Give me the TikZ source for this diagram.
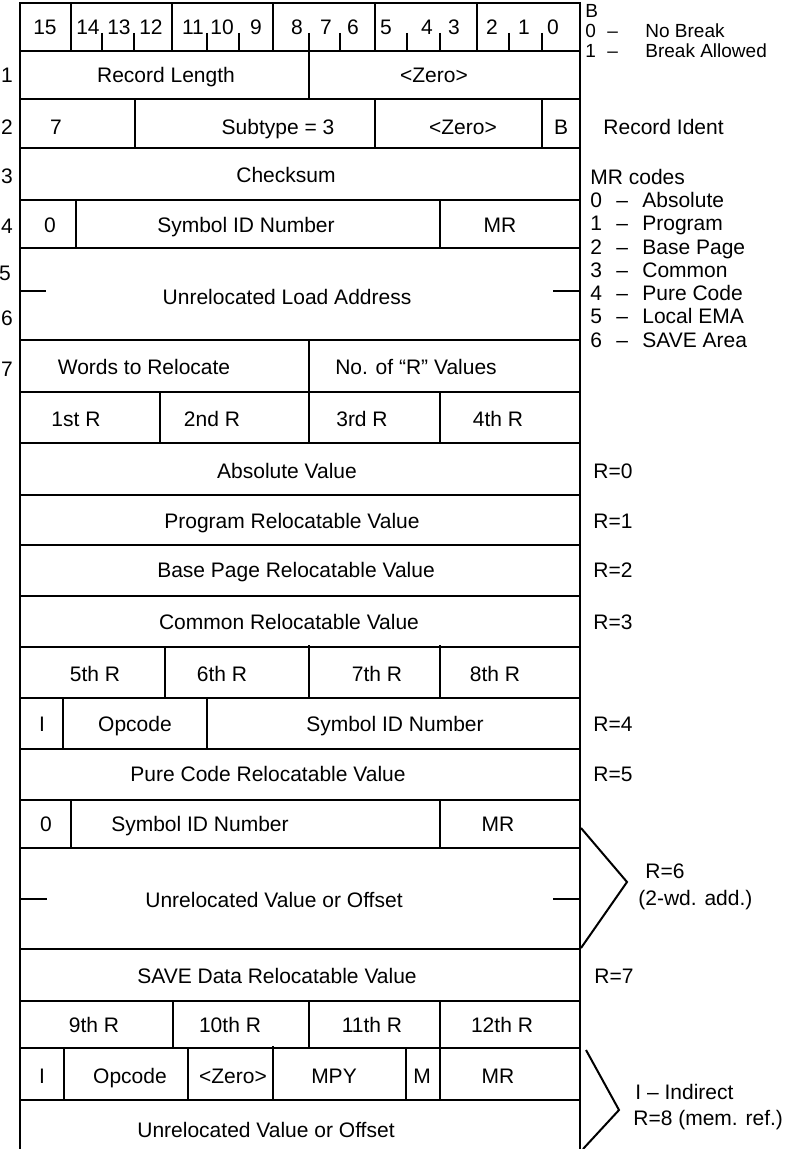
\documentclass[tikz,border=0pt]{standalone}
\usepackage{fontspec}
\setmainfont{Liberation Sans}
\tikzstyle{every node}=[inner sep=0pt, text height=7.5pt, text depth=0pt,
  font=\fontsize{10.5}{12}\selectfont]
\tikzstyle{note}=[anchor=west]
\tikzstyle{small note}=[anchor=west, text height=6.8pt, font=\fontsize{9.5}{11}\selectfont]
\tikzstyle{hline}=[line width=1.2pt]
\tikzstyle{vline}=[line width=1pt]
\newcommand{\brk}[2]{\makebox[11pt][l]{#1}\makebox[19pt][l]{--}#2}
\newcommand{\mrc}[2]{\makebox[13pt][l]{#1}\makebox[13pt][l]{--}#2}

\begin{document}
\begin{tikzpicture}[x=0.5pt,y=-0.5pt]
      \useasboundingbox (0,0) rectangle (784,1149);
      \draw[hline] (20,1149) -- (20,3) -- (580,3) -- (580,1149);
      \draw[hline] (20,51) -- (580,51);
      \draw[hline] (20,99) -- (580,99);
      \draw[hline] (20,148) -- (580,148);
      \draw[hline] (20,200) -- (580,200);
      \draw[hline] (20,248) -- (580,248);
      \draw[hline] (20,340) -- (580,340);
      \draw[hline] (20,392) -- (580,392);
      \draw[hline] (20,443) -- (580,443);
      \draw[hline] (20,495) -- (580,495);
      \draw[hline] (20,545) -- (580,545);
      \draw[hline] (20,596) -- (580,596);
      \draw[hline] (20,647) -- (580,647);
      \draw[hline] (20,698) -- (580,698);
      \draw[hline] (20,749) -- (580,749);
      \draw[hline] (20,800) -- (580,800);
      \draw[hline] (20,848) -- (580,848);
      \draw[hline] (20,949) -- (580,949);
      \draw[hline] (20,1001) -- (580,1001);
      \draw[hline] (20,1048) -- (580,1048);
      \draw[hline] (20,1100) -- (580,1100);

      \draw[vline] (71,3) -- (71,51) (172,3) -- (172,51) (273,3) -- (273,51)
                   (375,3) -- (375,51) (477,3) -- (477,51);
      \draw[vline] (102,33) -- (102,51) (134,33) -- (134,51) (207,33) -- (207,51)
                   (239,33) -- (239,51) (340,33) -- (340,51) (407,33) -- (407,51)
                   (440,33) -- (440,51) (509,33) -- (509,51) (542,33) -- (542,51);
      \draw[vline] (309,33) -- (309,99);
      \draw[vline] (135,99) -- (135,148) (375,99) -- (375,148) (542,99) -- (542,148);
      \draw[vline] (76,200) -- (76,248) (440,200) -- (440,248);
      \draw[vline] (20,291) -- (46,291) (553,291) -- (580,291);
      \draw[vline] (309,340) -- (309,443) (160,392) -- (160,443) (440,392) -- (440,443);
      \draw[vline] (165,647) -- (165,698) (309,645) -- (309,698) (440,645) -- (440,698);
      \draw[vline] (63,698) -- (63,749) (207,698) -- (207,749);
      \draw[vline] (71,800) -- (71,848) (440,800) -- (440,848);
      \draw[vline] (20,899) -- (47,899) (553,899) -- (580,899);
      \draw[vline] (173,1001) -- (173,1048) (309,1001) -- (309,1048) (440,1001) -- (440,1048);
      \draw[vline] (64,1048) -- (64,1100) (188,1048) -- (188,1100) (273,1046) -- (273,1100)
                   (406,1048) -- (406,1100) (440,1048) -- (440,1100);

      \node (b15) at (45,27) {15};
      \node (b14) at (88,27) {14};
      \node (b13) at (119,27) {13};
      \node (b12) at (151,27) {12};
      \node (b11) at (193,27) {11};
      \node (b10) at (222,27) {10};
      \node (b9) at (256,27) {9};
      \node (b8) at (297,27) {8};
      \node (b7) at (326,27) {7};
      \node (b6) at (353,27) {6};
      \node (b5) at (386,27) {5};
      \node (b4) at (427,27) {4};
      \node (b3) at (454,27) {3};
      \node (b2) at (492,27) {2};
      \node (b1) at (524,27) {1};
      \node (b0) at (553,27) {0};

      \node (rn1) at (7,75) {1};
      \node (rn2) at (7,127) {2};
      \node (rn3) at (7,176) {3};
      \node (rn4) at (7,226) {4};
      \node (rn5) at (5,273) {5};
      \node (rn6) at (7,318) {6};
      \node (rn7) at (7,369) {7};

      \node (reclen) at (166,75) {Record Length};
      \node (zeroa) at (434,75) {<Zero>};
      \node (ident) at (56,127) {7};
      \node (subtype) at (278,127) {Subtype = 3};
      \node (zerob) at (463,127) {<Zero>};
      \node (brkbit) at (561,127) {B};
      \node (chksum) at (286,175) {Checksum};
      \node (signa) at (50,225) {0};
      \node (symida) at (246,225) {Symbol ID Number};
      \node (mra) at (500,225) {MR};
      \node (loadadr) at (287,297) {Unrelocated Load Address};
      \node (words) at (144,367) {Words to Relocate};
      \node (nrval) at (416,367) {No. of “R” Values};
      \node (r1) at (76,419) {1st R};
      \node (r2) at (212,419) {2nd R};
      \node (r3) at (362,419) {3rd R};
      \node (r4) at (498,419) {4th R};
      \node (absval) at (287,471) {Absolute Value};
      \node (progval) at (292,521) {Program Relocatable Value};
      \node (bpval) at (296,570) {Base Page Relocatable Value};
      \node (comval) at (289,622) {Common Relocatable Value};
      \node (r5) at (95,674) {5th R};
      \node (r6) at (222,674) {6th R};
      \node (r7) at (377,674) {7th R};
      \node (r8) at (495,674) {8th R};
      \node (inda) at (42,724) {I};
      \node (opca) at (135,724) {Opcode};
      \node (symidb) at (395,724) {Symbol ID Number};
      \node (pcval) at (268,774) {Pure Code Relocatable Value};
      \node (signb) at (46,824) {0};
      \node (symidc) at (200,824) {Symbol ID Number};
      \node (mrb) at (498,824) {MR};
      \node (offa) at (274,900) {Unrelocated Value or Offset};
      \node (saveval) at (277,976) {SAVE Data Relocatable Value};
      \node (r9) at (94,1025) {9th R};
      \node (r10) at (230,1025) {10th R};
      \node (r11) at (372,1025) {11th R};
      \node (r12) at (502,1025) {12th R};
      \node (indb) at (42,1076) {I};
      \node (opcb) at (130,1076) {Opcode};
      \node (zeroc) at (233,1076) {<Zero>};
      \node (mpy) at (334,1076) {MPY};
      \node (mbit) at (422,1076) {M};
      \node (mrc) at (498,1076) {MR};
      \node (offb) at (266,1130) {Unrelocated Value or Offset};

      \node[small note] (bhead) at (585,11) {B};
      \node[small note] (bno) at (585,31) {\brk{0}{No Break}};
      \node[small note] (byes) at (585,51) {\brk{1}{Break Allowed}};
      \node[note] (recid) at (603,127) {Record Ident};
      \node[note] (mrhead) at (590,177) {MR codes};
      \node[note] (mr0) at (590,200) {\mrc{0}{Absolute}};
      \node[note] (mr1) at (590,223) {\mrc{1}{Program}};
      \node[note] (mr2) at (590,247) {\mrc{2}{Base Page}};
      \node[note] (mr3) at (590,270) {\mrc{3}{Common}};
      \node[note] (mr4) at (590,293) {\mrc{4}{Pure Code}};
      \node[note] (mr5) at (590,316) {\mrc{5}{Local EMA}};
      \node[note] (mr6) at (590,340) {\mrc{6}{SAVE Area}};
      \node[note] (rz0) at (593,471) {R=0};
      \node[note] (rz1) at (593,521) {R=1};
      \node[note] (rz2) at (593,570) {R=2};
      \node[note] (rz3) at (593,622) {R=3};
      \node[note] (rz4) at (593,724) {R=4};
      \node[note] (rz5) at (593,774) {R=5};
      \node[note] (rz6) at (645,871) {R=6};
      \node[note] (twowd) at (638,898) {(2-wd. add.)};
      \node[note] (rz7) at (594,976) {R=7};
      \node[note] (indir) at (635,1092) {I -- Indirect};
      \node[note] (rz8) at (633,1118) {R=8 (mem. ref.)};

      \coordinate (ta) at (581,828);
      \coordinate (tb) at (581,948);
      \coordinate (tc) at (586,1050);
      \coordinate (td) at (583,1149);
      \draw[vline] (ta) -- (627,882) -- (tb);
      \draw[vline] (tc) -- (619,1110) -- (td);
    \end{tikzpicture}
\end{document}
